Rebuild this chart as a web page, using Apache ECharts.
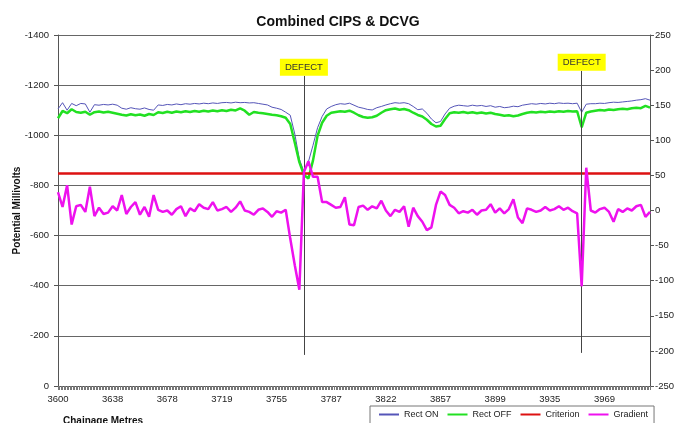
<!DOCTYPE html>
<html>
<head>
<meta charset="utf-8">
<title>Combined CIPS &amp; DCVG</title>
<script src="https://cdn.jsdelivr.net/npm/echarts@6/dist/echarts.min.js"></script>
<style>
  html, body { margin: 0; padding: 0; background: #fff; }
  #chart { width: 676px; height: 423px; }
</style>
</head>
<body>
<div id="chart"></div>
<script>
// chainage of each reading (m)
var chainage = [
  3600,3603,3606,3610,3613,3616,3619,3622,3625,3629,3632,3635,
  3638,3641,3645,3648,3651,3655,3658,3661,3665,3668,3671,3675,
  3678,3681,3685,3688,3692,3695,3698,3702,3705,3709,3712,3715,
  3719,3722,3725,3728,3731,3734,3737,3740,3743,3746,3749,3752,
  3755,3758,3760,3763,3766,3768,3771,3774,3776,3779,3782,3784,
  3787,3790,3793,3796,3799,3802,3805,3807,3810,3813,3816,3819,
  3822,3825,3828,3831,3834,3837,3840,3842,3845,3848,3851,3854,
  3857,3861,3864,3868,3871,3875,3878,3882,3885,3889,3892,3896,
  3899,3902,3905,3908,3911,3914,3917,3920,3923,3926,3929,3932,
  3935,3938,3941,3944,3946,3949,3952,3955,3958,3961,3963,3966,
  3969,3972,3975,3978,3981,3984,3987,3990,3993,3996,3999
];

// CIPS potentials (mV)
var rectOn = [
  -1105,-1130,-1100,-1127,-1118,-1127,-1125,-1092,-1122,-1120,
  -1123,-1121,-1124,-1120,-1108,-1104,-1110,-1106,-1104,-1109,
  -1103,-1100,-1121,-1119,-1123,-1121,-1125,-1122,-1126,-1124,
  -1127,-1125,-1128,-1126,-1129,-1127,-1130,-1131,-1129,-1132,
  -1130,-1131,-1129,-1130,-1127,-1124,-1121,-1112,-1108,-1103,
  -1092,-1080,-1005,-905,-855,-895,-960,-1030,-1075,-1105,
  -1115,-1122,-1126,-1124,-1128,-1120,-1112,-1108,-1103,-1101,
  -1110,-1115,-1121,-1126,-1130,-1128,-1130,-1126,-1115,-1102,
  -1105,-1088,-1065,-1050,-1055,-1085,-1108,-1116,-1120,-1118,
  -1116,-1120,-1117,-1119,-1115,-1118,-1112,-1115,-1110,-1112,
  -1116,-1114,-1120,-1123,-1126,-1124,-1127,-1125,-1128,-1126,
  -1129,-1127,-1128,-1126,-1128,-1092,-1124,-1126,-1126,-1128,
  -1127,-1130,-1132,-1131,-1133,-1135,-1137,-1140,-1142,-1146,-1140
];

var rectOff = [
  -1068,-1097,-1088,-1104,-1093,-1090,-1094,-1082,-1092,-1095,
  -1091,-1094,-1090,-1086,-1082,-1079,-1084,-1080,-1083,-1078,
  -1085,-1081,-1092,-1089,-1094,-1090,-1095,-1092,-1096,-1093,
  -1097,-1094,-1098,-1095,-1099,-1096,-1100,-1097,-1102,-1099,
  -1107,-1098,-1082,-1093,-1090,-1088,-1085,-1082,-1080,-1076,
  -1070,-1045,-970,-893,-842,-828,-900,-998,-1050,-1078,
  -1090,-1093,-1096,-1094,-1098,-1090,-1080,-1073,-1070,-1072,
  -1078,-1090,-1100,-1104,-1107,-1102,-1105,-1100,-1090,-1081,
  -1075,-1062,-1045,-1035,-1038,-1065,-1088,-1092,-1090,-1093,
  -1089,-1092,-1088,-1091,-1087,-1090,-1085,-1082,-1078,-1080,
  -1076,-1079,-1085,-1090,-1093,-1091,-1094,-1092,-1095,-1093,
  -1096,-1094,-1097,-1095,-1096,-1032,-1090,-1095,-1098,-1101,
  -1099,-1103,-1101,-1104,-1106,-1104,-1108,-1110,-1108,-1117,-1110
];

// DCVG gradient (right axis)
var gradient = [
  26,5,36,-20,6,8,-2,34,-8,4,
  -5,-3,6,0,22,-5,5,12,-6,5,
  -9,22,1,-2,0,-6,2,6,-8,3,
  -1,9,4,2,12,0,2,5,-2,4,
  13,0,-2,-6,1,3,-2,-9,-1,-3,
  1,-40,-78,-113,55,70,48,48,12,12,
  8,4,5,19,-20,-21,5,7,1,6,
  3,14,0,-8,1,-2,6,-23,4,-8,
  -16,-28,-24,8,27,22,8,4,-4,-1,
  -3,1,-6,0,1,9,-3,3,-4,2,
  16,-10,-18,3,1,-2,0,5,0,2,
  6,1,4,-1,-4,-108,61,0,-3,2,
  4,-2,-16,2,-2,3,0,6,8,-9,-2
];

var criterion = -850;

// defect markers: chainage, line top / bottom (mV)
var defectAt = [3771, 3955];
var defectTop = [-1237, -1257];
var defectBottom = [-124, -132];

var FONT = "'Liberation Sans', Arial, sans-serif";

var defectLines = defectAt.map(function (c, k) {
  var idx = chainage.indexOf(c);
  return [
    { coord: [idx, defectBottom[k]] },
    { coord: [idx, defectTop[k]] }
  ];
});

function plain(v) { return String(v); }

var chart = echarts.init(document.getElementById('chart'));
chart.setOption({
  animation: false,
  backgroundColor: '#fff',
  textStyle: { fontFamily: FONT },
  title: [
    {
      text: 'Combined CIPS & DCVG',
      left: 'center',
      top: 10,
      textStyle: { fontFamily: FONT, fontSize: 14, fontWeight: 'bold', color: '#111' }
    },
    {
      text: 'Chainage Metres',
      left: 58,
      top: 411,
      textStyle: { fontFamily: FONT, fontSize: 10, fontWeight: 'bold', color: '#111' }
    }
  ],
  legend: {
    data: ['Rect ON', 'Rect OFF', 'Criterion', 'Gradient'],
    left: 370,
    top: 406,
    padding: [4, 6, 6, 8],
    itemGap: 8,
    itemWidth: 20,
    itemHeight: 10,
    itemStyle: { opacity: 0 },
    borderColor: '#777',
    borderWidth: 1,
    textStyle: { fontFamily: FONT, fontSize: 9, color: '#222' }
  },
  grid: { left: 58, right: 26, top: 35, bottom: 37, outerBoundsMode: 'none' },
  xAxis: [
    {
      type: 'category',
      data: chainage,
      boundaryGap: false,
      axisLine: { lineStyle: { color: '#555' } },
      axisTick: { show: false },
      axisLabel: { interval: 11, margin: 8, fontSize: 9.5, color: '#222', fontFamily: FONT }
    },
    {
      // fine reading ticks along the chainage axis
      type: 'value',
      position: 'bottom',
      min: 0,
      max: 390,
      interval: 1,
      axisLine: { show: false, onZero: false },
      axisTick: { show: true, length: 4, lineStyle: { color: '#777' } },
      axisLabel: { show: false },
      splitLine: { show: false }
    }
  ],
  yAxis: [
    {
      type: 'value',
      inverse: true,
      min: -1400,
      max: 0,
      interval: 200,
      name: 'Potential Millivolts',
      nameLocation: 'middle',
      nameGap: 36,
      nameMoveOverlap: false,
      nameTextStyle: { fontFamily: FONT, fontSize: 10, fontWeight: 'bold', color: '#111' },
      axisLine: { show: true, lineStyle: { color: '#555' } },
      axisTick: { show: true, length: 4, lineStyle: { color: '#555' } },
      axisLabel: { margin: 9, fontSize: 9.5, color: '#222', fontFamily: FONT, formatter: plain },
      splitLine: { lineStyle: { color: '#666', width: 1 } }
    },
    {
      type: 'value',
      position: 'right',
      min: -250,
      max: 250,
      interval: 50,
      axisLine: { show: true, lineStyle: { color: '#555' } },
      axisTick: { show: true, length: 4, lineStyle: { color: '#555' } },
      axisLabel: { margin: 5, fontSize: 9.5, color: '#222', fontFamily: FONT, formatter: plain },
      splitLine: { show: false }
    }
  ],
  series: [
    {
      name: 'Rect ON',
      type: 'line',
      data: rectOn,
      symbol: 'none',
      color: '#5555b8',
      lineStyle: { color: '#5555b8', width: 1 },
      emphasis: { disabled: true },
      z: 2
    },
    {
      name: 'Rect OFF',
      type: 'line',
      data: rectOff,
      symbol: 'none',
      color: '#22e022',
      lineStyle: { color: '#22e022', width: 2.5 },
      emphasis: { disabled: true },
      z: 3
    },
    {
      name: 'Criterion',
      type: 'line',
      data: [],
      symbol: 'none',
      color: '#dd1111',
      lineStyle: { color: '#dd1111', width: 2.5 },
      markLine: {
        silent: true,
        symbol: 'none',
        label: { show: false },
        lineStyle: { color: '#dd1111', width: 2.5, type: 'solid' },
        data: [{ yAxis: criterion }]
      },
      z: 4
    },
    {
      name: 'Gradient',
      type: 'line',
      yAxisIndex: 1,
      data: gradient,
      symbol: 'none',
      color: '#ee11ee',
      lineStyle: { color: '#ee11ee', width: 2.5 },
      emphasis: { disabled: true },
      z: 5
    },
    {
      name: 'Defect',
      type: 'line',
      data: [],
      symbol: 'none',
      markLine: {
        silent: true,
        symbol: 'none',
        lineStyle: { color: '#444', width: 1, type: 'solid' },
        label: {
          show: true,
          position: 'end',
          distance: 0,
          formatter: 'DEFECT',
          backgroundColor: '#ffff00',
          padding: [4, 5, 3, 5],
          color: '#333',
          fontSize: 9.5,
          fontFamily: FONT
        },
        data: defectLines
      },
      z: 6
    }
  ]
});
</script>
</body>
</html>
